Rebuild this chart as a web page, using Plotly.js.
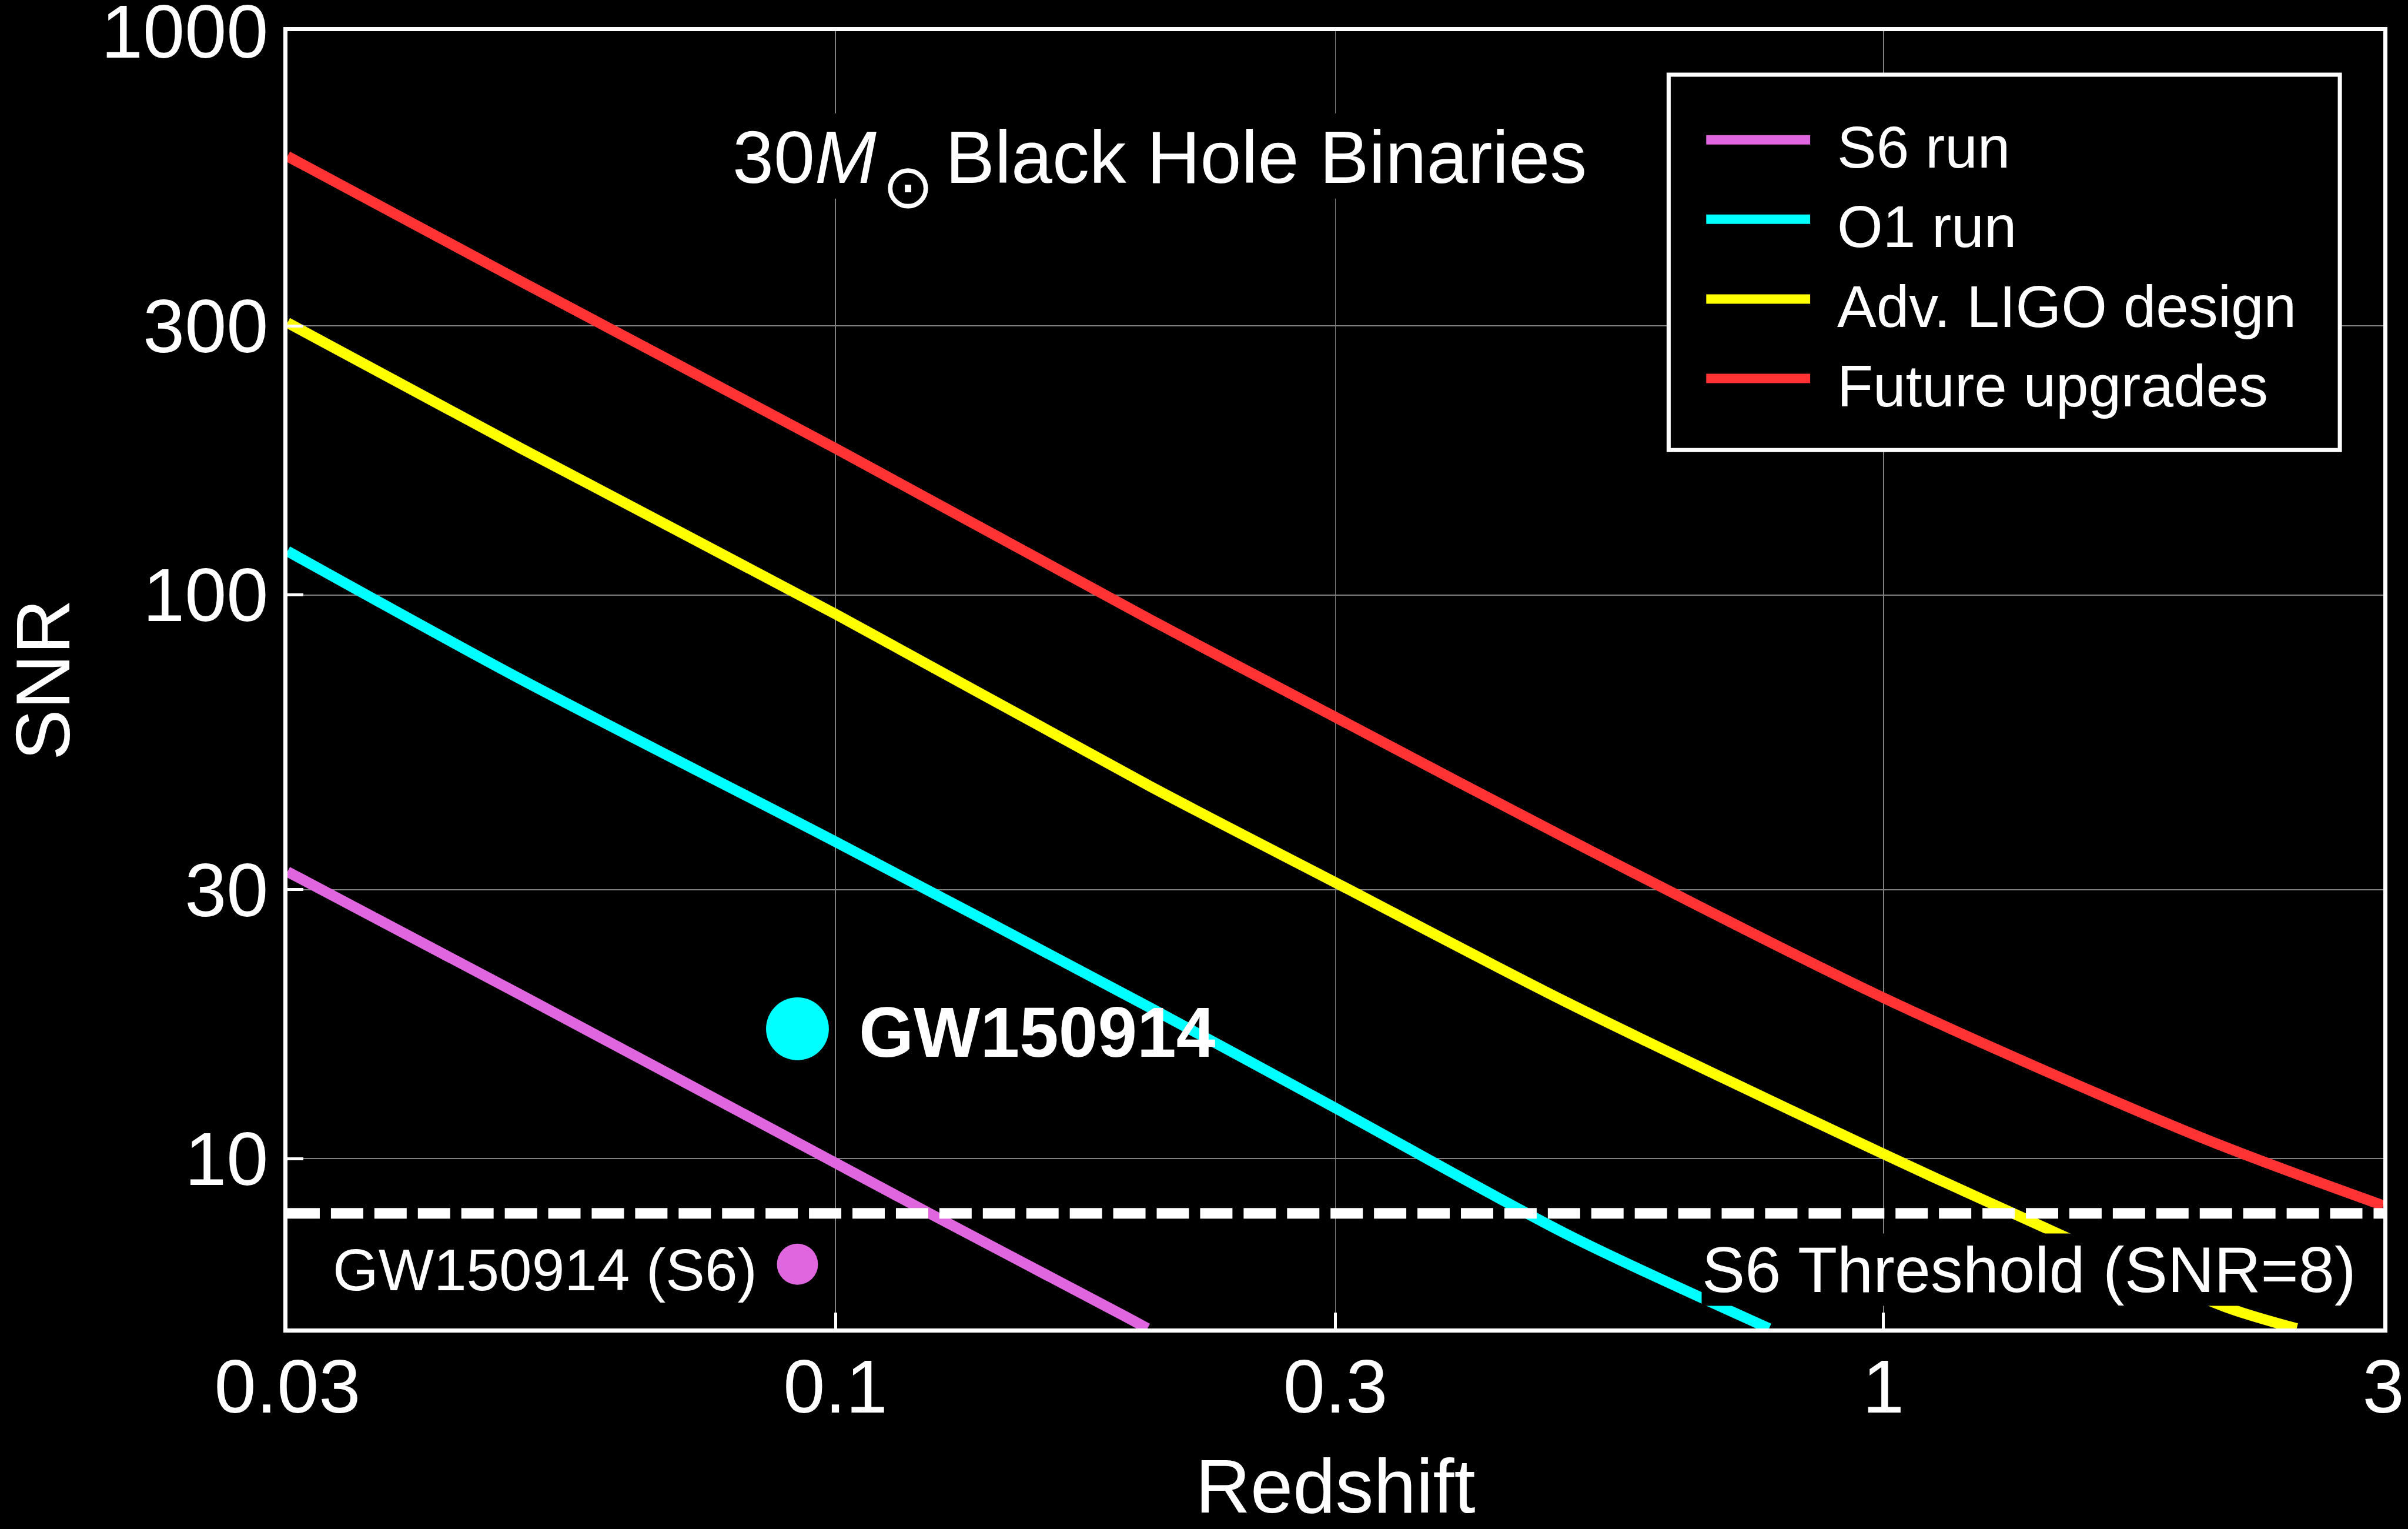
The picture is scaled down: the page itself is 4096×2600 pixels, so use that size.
<!DOCTYPE html>
<html>
<head>
<meta charset="utf-8">
<script src="https://cdn.plot.ly/plotly-3.0.1.min.js"></script>
<style>
html,body{margin:0;padding:0;background:#000;}
#chart{width:4096px;height:2600px;}
</style>
</head>
<body>
<div id="chart"></div>
<script>
// ---------------- data ----------------
const seriesNames = ["S6 run", "O1 run", "Adv. LIGO design", "Future upgrades"];
const seriesColors = ["#e066e0", "#00ffff", "#ffff00", "#ff3333"];

const redshiftS6 = [0.03, 0.05, 0.0983, 0.123, 0.188, 0.1985];
const snrS6      = [32.3, 19.56, 10.0, 8.0, 5.28, 5.0];

const redshiftO1 = [0.03, 0.05, 0.1, 0.2, 0.3, 0.5, 0.778];
const snrO1      = [119.6, 71.0, 36.5, 18.5, 12.3, 7.33, 5.0];

const redshiftDesign = [0.03, 0.05, 0.1, 0.2, 0.3, 0.5, 1, 1.33, 2.12, 2.48];
const snrDesign      = [304, 182.4, 92.5, 45.7, 30.9, 18.9, 10.2, 8.0, 5.46, 5.0];

const redshiftFuture = [0.03, 0.05, 0.1, 0.2, 0.3, 0.5, 1, 2, 3];
const snrFuture      = [600, 360.6, 182, 90.3, 60.7, 36.9, 19.3, 10.95, 8.26];

const thresholdRedshift = [0.03, 3];
const thresholdSNR      = [8, 8];
const thresholdLabel    = "S6 Threshold (SNR=8)";

const eventName     = "GW150914";
const eventRedshift = [0.092];
const eventSNR_O1   = [17.0];
const eventSNR_S6   = [6.5];

const titleParts = ["30<i>M</i>", "⊙", "Black Hole Binaries"];

const xTickVals = [0.03, 0.1, 0.3, 1, 3];
const xTickText = ["0.03", "0.1", "0.3", "1", "3"];
const yTickVals = [10, 30, 100, 300, 1000];
const yTickText = ["10", "30", "100", "300", "1000"];

// ---------------- geometry (reference pixels, scaled) ----------------
const S = 0.999;
const W = 4096, H = 2600;
const refL = 489, refR = 4058, refT = 53, refB = 2261;
const px = x => (x - refL) / (refR - refL);
const py = y => (refB - y) / (refB - refT);
const FONT = "Liberation Sans, Arial, Helvetica, sans-serif";

const lineW = 18 * S;
const curveLine = c => ({color: c, width: lineW, shape: "spline", smoothing: 0.8});

const traces = [
  {x: redshiftS6, y: snrS6, name: seriesNames[0], mode: "lines", line: curveLine(seriesColors[0])},
  {x: redshiftO1, y: snrO1, name: seriesNames[1], mode: "lines", line: curveLine(seriesColors[1])},
  {x: redshiftDesign, y: snrDesign, name: seriesNames[2], mode: "lines", line: curveLine(seriesColors[2])},
  {x: redshiftFuture, y: snrFuture, name: seriesNames[3], mode: "lines", line: curveLine(seriesColors[3])},
  {x: thresholdRedshift, y: thresholdSNR, name: thresholdLabel, mode: "lines",
   line: {color: "#ffffff", width: 18 * S, dash: (55 * S) + "px," + (19 * S) + "px"}},
  {x: eventRedshift, y: eventSNR_O1, name: eventName, mode: "markers",
   marker: {color: "#00ffff", size: 107 * S, line: {width: 0}}},
  {x: eventRedshift, y: eventSNR_S6, name: eventName + " (S6)", mode: "markers",
   marker: {color: "#e066e0", size: 70 * S, line: {width: 0}}}
];

// black band behind the in-plot title (hides the grid lines, as in the reference)
const shapes = [
  {type: "rect", xref: "paper", yref: "paper", x0: px(1236), x1: px(2722), y0: py(338), y1: py(193),
   fillcolor: "#000000", line: {width: 0}, layer: "above"},
  // legend box, drawn by hand (long line samples as in the reference)
  {type: "rect", xref: "paper", yref: "paper", x0: px(2841), x1: px(3984), y0: py(766), y1: py(127),
   fillcolor: "#000000", line: {color: "#ffffff", width: 7 * S}, layer: "above"}
];
const annotations = [];
const legendRows = [238, 373, 509, 644];
legendRows.forEach((ry, i) => {
  shapes.push({type: "line", xref: "paper", yref: "paper", x0: px(2905), x1: px(3082), y0: py(ry), y1: py(ry),
               line: {color: seriesColors[i], width: 16 * S}, layer: "above"});
  annotations.push({xref: "paper", yref: "paper", x: px(3126), y: py(ry + 13), xanchor: "left", yanchor: "middle",
                    text: seriesNames[i], showarrow: false, font: {family: FONT, size: 100 * S, color: "#ffffff"}});
});

annotations.push(
  {xref: "paper", yref: "paper", x: px(1246), y: py(268), xanchor: "left", yanchor: "middle",
   text: titleParts[0], showarrow: false, borderpad: 0,
   font: {family: FONT, size: 126 * S, color: "#ffffff"}},
  {xref: "paper", yref: "paper", x: px(1546), y: py(318), xanchor: "center", yanchor: "middle",
   text: titleParts[1], showarrow: false, borderpad: 0,
   font: {family: "DejaVu Sans, sans-serif", size: 104 * S, color: "#ffffff"}},
  {xref: "paper", yref: "paper", x: px(1608), y: py(268), xanchor: "left", yanchor: "middle",
   text: titleParts[2], showarrow: false, borderpad: 0,
   font: {family: FONT, size: 126 * S, color: "#ffffff"}},
  {xref: "x", yref: "y", x: Math.log10(eventRedshift[0]), y: Math.log10(eventSNR_O1[0]), xanchor: "left", yanchor: "middle",
   xshift: 103 * S, yshift: -6 * S, text: eventName, showarrow: false,
   font: {family: FONT, size: 120 * S, color: "#ffffff", weight: "bold"}},
  {xref: "x", yref: "y", x: Math.log10(eventRedshift[0]), y: Math.log10(eventSNR_S6[0]), xanchor: "right", yanchor: "middle",
   xshift: -68 * S, yshift: -10 * S, text: eventName + " (S6)", showarrow: false, bgcolor: "#000000", borderpad: 0,
   font: {family: FONT, size: 100 * S, color: "#ffffff"}},
  {xref: "x", yref: "y", x: Math.log10(thresholdRedshift[1]), y: Math.log10(thresholdSNR[1]), xanchor: "right", yanchor: "middle",
   xshift: -46 * S, yshift: -96 * S, text: thresholdLabel, showarrow: false, bgcolor: "#000000", borderpad: 0,
   font: {family: FONT, size: 110 * S, color: "#ffffff"}}
);

const axisCommon = {
  type: "log", ticks: "inside", ticklen: 27 * S, tickwidth: 5 * S, tickcolor: "#ffffff",
  showline: true, linecolor: "#ffffff", linewidth: 7 * S, mirror: true,
  showgrid: true, gridcolor: "#808080", gridwidth: 2 * S, zeroline: false,
  ticklabeloverflow: "allow",
  tickfont: {family: FONT, size: 128 * S, color: "#ffffff"}, automargin: false, fixedrange: true
};

const layout = {
  width: W, height: H,
  paper_bgcolor: "#000000", plot_bgcolor: "#000000",
  margin: {l: refL * S, r: W - refR * S, t: refT * S, b: H - refB * S, pad: 0},
  showlegend: false,
  font: {family: FONT, color: "#ffffff"},
  xaxis: Object.assign({}, axisCommon, {
    range: [Math.log10(0.03) - 1e-6, Math.log10(3) + 1e-6], tickmode: "array", tickvals: xTickVals, ticktext: xTickText,
    ticklabelstandoff: -17,
    title: {text: "Redshift", font: {family: FONT, size: 130 * S, color: "#ffffff"}, standoff: 88}
  }),
  yaxis: Object.assign({}, axisCommon, {
    range: [Math.log10(5) - 1e-6, 3 + 1e-6], tickmode: "array", tickvals: yTickVals, ticktext: yTickText,
    title: {text: "SNR", font: {family: FONT, size: 130 * S, color: "#ffffff"}, standoff: 43}
  }),
  shapes: shapes,
  annotations: annotations
};

Plotly.newPlot("chart", traces, layout, {staticPlot: true, displayModeBar: false});
</script>
</body>
</html>
